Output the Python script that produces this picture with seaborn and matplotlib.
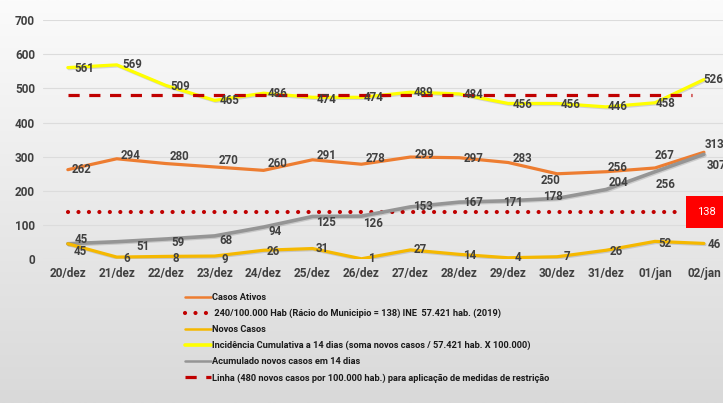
import numpy as np
import pandas as pd
import seaborn as sns
import matplotlib.pyplot as plt
from matplotlib import patheffects as pe
from matplotlib.lines import Line2D

# dados (20/dez a 02/jan)
dias = ["20/dez", "21/dez", "22/dez", "23/dez", "24/dez", "25/dez", "26/dez",
        "27/dez", "28/dez", "29/dez", "30/dez", "31/dez", "01/jan", "02/jan"]
casos_ativos = [262, 294, 280, 270, 260, 291, 278, 299, 297, 283, 250, 256, 267, 313]
novos_casos = [45, 6, 8, 9, 26, 31, 1, 27, 14, 4, 7, 26, 52, 46]
incidencia = [561, 569, 509, 465, 486, 474, 474, 489, 484, 456, 456, 446, 458, 526]
acumulado_14d = [45, 51, 59, 68, 94, 125, 126, 153, 167, 171, 178, 204, 256, 307]
racio_municipio = 138
limite_restricao = 480

df = pd.DataFrame({"dia": dias, "ativos": casos_ativos, "novos": novos_casos,
                   "incid": incidencia, "acum": acumulado_14d})
df["pos"] = np.arange(len(df))

# label offsets in pixels (dx, dy up)
off_ativos = ([14] * 10 + [-7, 12, 10, 11], [0, 3, 7, 6, 7, 4, 6, 3, -1, 4, -7, 4, 12, 8])
off_novos = ([12] + [10] * 13, [-8, -1, -2, -3, -1, 0, 0, 0, -1, 0, 0, -1, -2, -1])
off_incid = ([16, 16, 15, 15, 14, 14, 12, 13, 14, 14, 13, 12, 11, 9],
             [-1, 0, -1, 0, 0, -2, 0, 0, -1, -1, -1, 0, -1, 0])
off_acum = ([13, 26, 12, 11, 12, 14, 12, 13, 14, 5, -4, 12, 11, 13],
            [4, -5, -4, -5, -4, -6, -7, 0, 0, -2, 2, 7, -13, -11])

sns.set_theme(style="white")
plt.rcParams['font.family'] = ['Roboto', 'DejaVu Sans']

fig = plt.figure(figsize=(7.23, 4.03), dpi=100)

# gradient background
bg = fig.add_axes([0, 0, 1, 1], zorder=-10)
grad = np.linspace(0, 1, 256).reshape(-1, 1)
bg.imshow(grad, aspect="auto", cmap=sns.blend_palette(["#fbfbfb", "#d9d9d9"], as_cmap=True),
          extent=[0, 1, 0, 1])
bg.axis("off")

ax = fig.add_axes([0.060, 0.357, 0.940, 0.593])
ax.patch.set_alpha(0)

c_ativos = "#ED7D31"
c_novos = "#F5B800"
c_incid = "#FFFF00"
c_acum = "#959595"
c_red = "#C00000"

ax.hlines(racio_municipio, 0, 12.6, color=c_red, lw=3.0, linestyle=(0, (0.01, 2.5)),
          capstyle="round", zorder=2)
ax.hlines(limite_restricao, 0, 12.75, color=c_red, lw=2.3, linestyle=(0, (3.5, 3.0)),
          zorder=4)

shadow = [pe.SimpleLineShadow(offset=(0.8, -0.8), alpha=0.15), pe.Normal()]
sns.lineplot(data=df, x="pos", y="ativos", color=c_ativos, lw=2.3, ax=ax, zorder=3)
sns.lineplot(data=df, x="pos", y="acum", color=c_acum, lw=2.6, ax=ax, zorder=3,
             path_effects=shadow)
sns.lineplot(data=df, x="pos", y="novos", color=c_novos, lw=2.3, ax=ax, zorder=3,
             path_effects=shadow)
sns.lineplot(data=df, x="pos", y="incid", color=c_incid, lw=2.3, ax=ax, zorder=3,
             path_effects=shadow)

lab_col = "#404040"
for col, (dxs, dys) in [("ativos", off_ativos), ("novos", off_novos),
                        ("incid", off_incid), ("acum", off_acum)]:
    for i, v in enumerate(df[col]):
        ax.annotate(str(v), (df["pos"][i], v), xytext=(dxs[i], dys[i]),
                    textcoords="offset pixels", ha="center", va="center",
                    fontsize=8.3, fontweight="bold", color=lab_col, zorder=6,
                    annotation_clip=False)

ax.text(13.06, racio_municipio, str(racio_municipio), ha="center", va="center",
        fontsize=8, color="white", zorder=7, clip_on=False,
        bbox=dict(boxstyle="square,pad=1.0", fc="#FF0000", ec="none"))

ax.set_xlim(-0.5, 13.39)
ax.set_ylim(0, 700)
ax.set_yticks(range(0, 701, 100))
ax.set_xticks(df["pos"])
ax.set_xticklabels(dias)
ax.tick_params(axis="both", length=0, labelsize=8.5, labelcolor=lab_col, pad=6)
for t in ax.get_xticklabels() + ax.get_yticklabels():
    t.set_fontweight("bold")
ax.yaxis.grid(True, color="#dcdcdc", lw=0.8)
ax.set_axisbelow(True)
ax.set_xlabel("")
ax.set_ylabel("")
for s in ax.spines.values():
    s.set_visible(False)

handles = [
    Line2D([], [], color=c_ativos, lw=1.8),
    Line2D([], [], color=c_red, lw=3.0, linestyle=(0, (0.01, 2.5)), dash_capstyle="round"),
    Line2D([], [], color=c_novos, lw=1.8),
    Line2D([], [], color=c_incid, lw=2.6),
    Line2D([], [], color=c_acum, lw=1.8),
    Line2D([], [], color=c_red, lw=2.3, linestyle=(0, (3.5, 3.0))),
]
labels = [
    "Casos Ativos",
    " 240/100.000 Hab (Rácio do Municipio = 138) INE  57.421 hab. (2019)",
    "Novos Casos",
    "Incidência Cumulativa a 14 dias (soma novos casos / 57.421 hab. X 100.000)",
    "Acumulado novos casos em 14 dias",
    "Linha (480 novos casos por 100.000 hab.) para aplicação de medidas de restrição",
]
leg = fig.legend(handles, labels, loc="upper left", bbox_to_anchor=(185 / 723, 1 - 293 / 403),
                 frameon=False, fontsize=6.7, handlelength=2.8, handletextpad=0.1,
                 labelspacing=0.74, borderpad=0, borderaxespad=0)
for t in leg.get_texts():
    t.set_color("#1a1a1a")
    t.set_fontweight("bold")

fig.savefig("out.png", dpi=100)
